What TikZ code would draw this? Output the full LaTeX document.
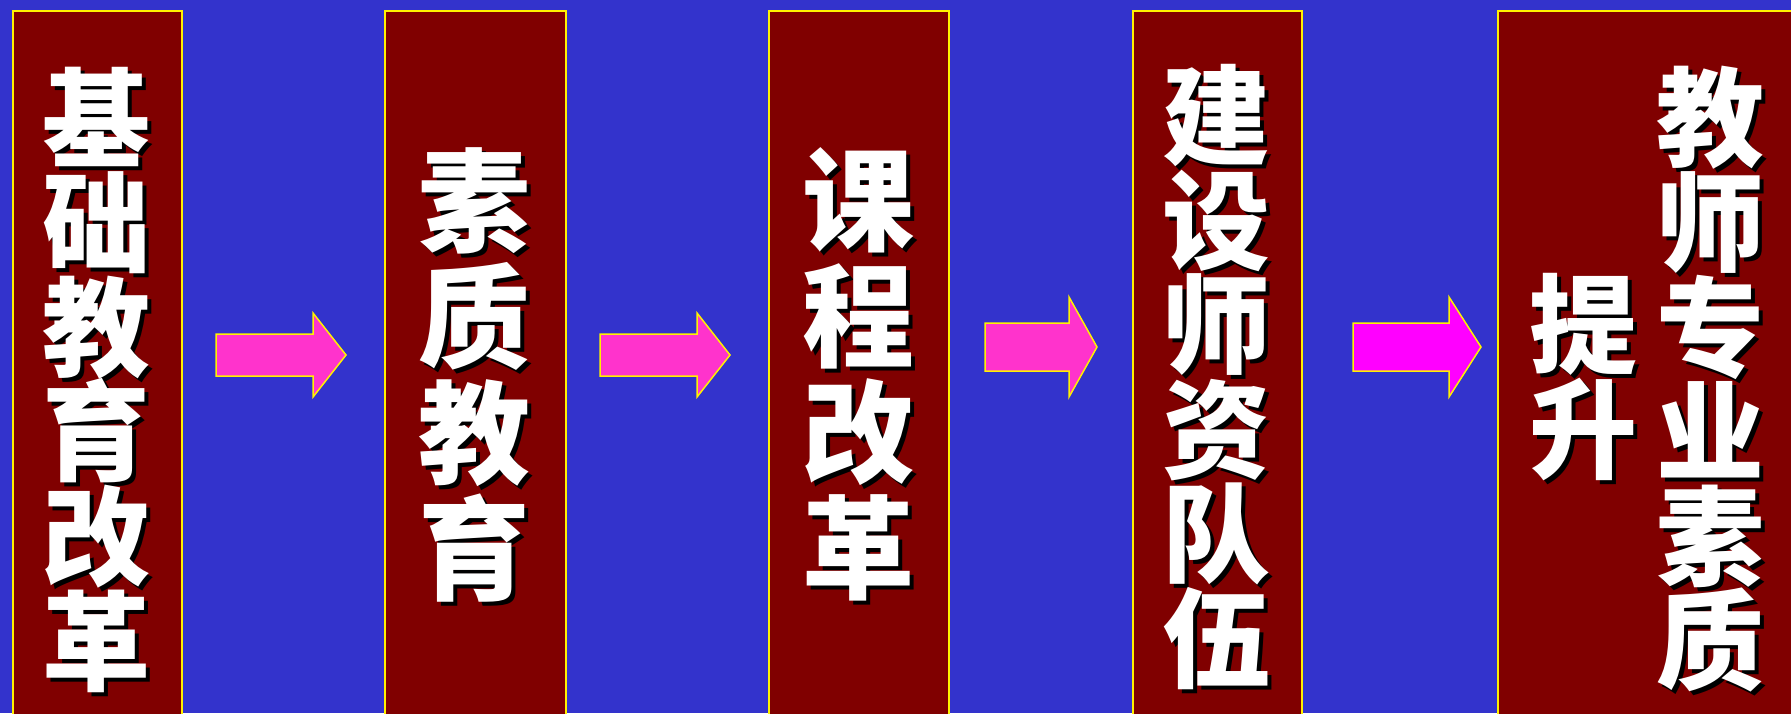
\documentclass[tikz,border=0pt]{standalone}
\usepackage{fontspec}
\newfontfamily\cjk{Noto Sans CJK SC}
\definecolor{slideblue}{RGB}{51,51,204}
\definecolor{boxred}{RGB}{128,0,0}
\definecolor{arrowpink}{RGB}{255,51,204}
\definecolor{arrowmag}{RGB}{255,0,255}
\newcommand\colfont[2]{\cjk\bfseries\fontsize{#1}{#2}\selectfont\setlength{\lineskiplimit}{-500pt}\relax}
\tikzset{
  panel/.style={draw=yellow, line width=2pt, fill=boxred, anchor=north west,
    minimum height=740pt, inner sep=0pt},
  blockarrow/.style={draw=yellow, line width=1.5pt, fill=arrowpink},
  word/.style={text=white, align=center, inner sep=0pt, font=\colfont{108}{104.6}},
  wideword/.style={word, font=\colfont{112}{116}},
  shade/.style={text=black, xshift=4pt, yshift=-4pt},
}
\begin{document}
\begin{tikzpicture}[x=1pt, y=-1pt]
  \useasboundingbox (0,0) rectangle (1791,713);
  \clip (0,0) rectangle (1791,713);
  \fill[slideblue] (0,0) rectangle (1791,713);
  % columns
  \node[panel, minimum width=169pt] (box1) at (12,10) {};
  \node[panel, minimum width=181.5pt] (box2) at (383.5,10) {};
  \node[panel, minimum width=180.5pt] (box3) at (767.5,10) {};
  \node[panel, minimum width=169pt] (box4) at (1132,10) {};
  \node[panel, minimum width=320pt] (box5) at (1497,10) {};
  % arrows
  \draw[blockarrow] (216,334) -- (313,334) -- (313,313) -- (346,355)
    -- (313,397) -- (313,376) -- (216,376) -- cycle;
  \draw[blockarrow] (600,334) -- (697,334) -- (697,313) -- (730,355)
    -- (697,397) -- (697,376) -- (600,376) -- cycle;
  \draw[blockarrow] (985,323) -- (1069,323) -- (1069,297) -- (1097,347)
    -- (1069,397) -- (1069,371) -- (985,371) -- cycle;
  \draw[blockarrow, fill=arrowmag] (1353,323) -- (1449,323) -- (1449,297) -- (1481,347)
    -- (1449,397) -- (1449,371) -- (1353,371) -- cycle;
  % texts
  \node[word, shade] (jcgg-s) at (96.5,379.5) {基\\础\\教\\育\\改\\革};
  \node[word] (jcgg) at (96.5,379.5) {基\\础\\教\\育\\改\\革};
  \node[wideword, shade] (szjy-s) at (474,375) {素\\质\\教\\育};
  \node[wideword] (szjy) at (474,375) {素\\质\\教\\育};
  \node[wideword, shade] (kcgg-s) at (858,374) {课\\程\\改\\革};
  \node[wideword] (kcgg) at (858,374) {课\\程\\改\\革};
  \node[word, shade] (jsdw-s) at (1216.5,377) {建\\设\\师\\资\\队\\伍};
  \node[word] (jsdw) at (1216.5,377) {建\\设\\师\\资\\队\\伍};
  \node[word, shade] (jssz-s) at (1710,379.5) {教\\师\\专\\业\\素\\质};
  \node[word] (jssz) at (1710,379.5) {教\\师\\专\\业\\素\\质};
  \node[word, shade] (ts-s) at (1583,377) {提\\升};
  \node[word] (ts) at (1583,377) {提\\升};
\end{tikzpicture}
\end{document}
